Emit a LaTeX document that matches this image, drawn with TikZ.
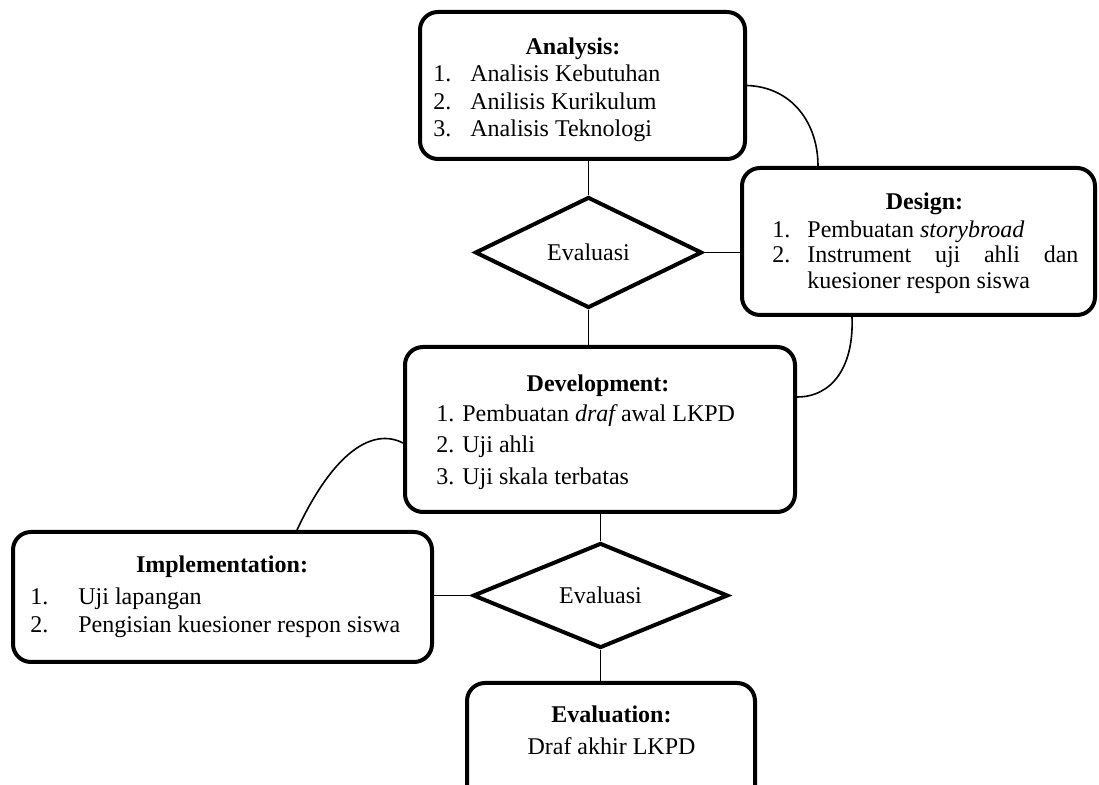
\documentclass[tikz,border=0pt]{standalone}
\usepackage{fontspec}
\setmainfont{Liberation Serif}
\usetikzlibrary{shapes.geometric}
\begin{document}
\begin{tikzpicture}[x=0.5pt,y=-0.5pt,
  box/.style={draw, line width=2pt, rounded corners=9pt, rectangle, inner sep=0pt},
  dia/.style={draw, line width=2pt, diamond, inner sep=0pt, font=\fontsize{12pt}{14pt}\selectfont},
  conn/.style={line width=0.8pt},
  txt/.style={inner sep=0pt, font=\fontsize{12pt}{14pt}\selectfont},
  ttl/.style={inner sep=0pt, anchor=base, font=\fontsize{12pt}{14pt}\selectfont\bfseries},
  itm/.style={txt, anchor=base west}]
\useasboundingbox (0,0) rectangle (1099,785);
\clip (0,0) rectangle (1099,785);

% boxes
\node[box, minimum width=162.5pt, minimum height=73.5pt] (ana) at (582.5,85.5) {};
\node[box, minimum width=176.5pt, minimum height=73.5pt] (des) at (918.5,241.5) {};
\node[box, minimum width=195pt, minimum height=82.5pt] (dev) at (600,429.5) {};
\node[box, minimum width=209.5pt, minimum height=65pt] (impl) at (222.5,597) {};
\node[box, minimum width=144pt, minimum height=63.5pt] (eval) at (611,746.5) {};

% diamonds
\node[dia, minimum width=113.5pt, minimum height=55.5pt] (d1) at (588.5,252.5) {Evaluasi};
\node[dia, minimum width=127.5pt, minimum height=52.5pt] (d2) at (600.5,595.5) {Evaluasi};

% Analysis text
\node[ttl] (anaT) at (573,55) {Analysis:};
\node[itm] (ana1n) at (433,82) {1.};
\node[itm] (ana1) at (470,82) {Analisis Kebutuhan};
\node[itm] (ana2n) at (433,109.5) {2.};
\node[itm] (ana2) at (470,109.5) {Anilisis Kurikulum};
\node[itm] (ana3n) at (433,136.5) {3.};
\node[itm] (ana3) at (470,136.5) {Analisis Teknologi};

% Design text
\node[ttl] (desT) at (924.5,210) {Design:};
\node[itm] (des1n) at (772,238) {1.};
\node[itm] (des1) at (807,238) {Pembuatan {\itshape storybroad}};
\node[itm] (des2n) at (772,263) {2.};
\node[itm] (des2) at (807,263) {\makebox[135.5pt][s]{Instrument uji ahli dan}};
\node[itm] (des3) at (807,289) {kuesioner respon siswa};

% Development text
\node[ttl] (devT) at (598,392) {Development:};
\node[itm] (dev1) at (436,422) {1. Pembuatan {\itshape draf} awal LKPD};
\node[itm] (dev2) at (436,453) {2. Uji ahli};
\node[itm] (dev3) at (436,485) {3. Uji skala terbatas};

% Implementation text
\node[ttl] (implT) at (222,573) {Implementation:};
\node[itm] (impl1n) at (30,605) {1.};
\node[itm] (impl1) at (78,605) {Uji lapangan};
\node[itm] (impl2n) at (30,633) {2.};
\node[itm] (impl2) at (78,633) {Pengisian kuesioner respon siswa};

% Evaluation text
\node[ttl] (evalT) at (611.5,723) {Evaluation:};
\node[txt, anchor=base] (eval1) at (611.5,755) {Draf akhir LKPD};

% straight connectors
\draw[conn] (ana.south -| d1.north) -- (d1.north);
\draw[conn] (d1.east) -- (d1.east -| des.west);
\draw[conn] (d1.south) -- (d1.south |- dev.north);
\draw[conn] (dev.south -| d2.north) -- (d2.north);
\draw[conn] (d2.west) -- (d2.west -| impl.east);
\draw[conn] (d2.south) -- (d2.south |- eval.north);

% curved connectors
\draw[conn] (ana.east) .. controls +(45,1.5) and +(0,-43) .. ([xshift=-50.25pt]des.north);
\draw[conn] ([xshift=-33.25pt]des.south) .. controls +(2,50) and +(35,0) .. ([yshift=16.25pt]dev.east);
\draw[conn] ([xshift=37.25pt]impl.north) .. controls +(38,-81) and +(-29,-15) .. ([yshift=-6.75pt]dev.west);
\end{tikzpicture}
\end{document}
